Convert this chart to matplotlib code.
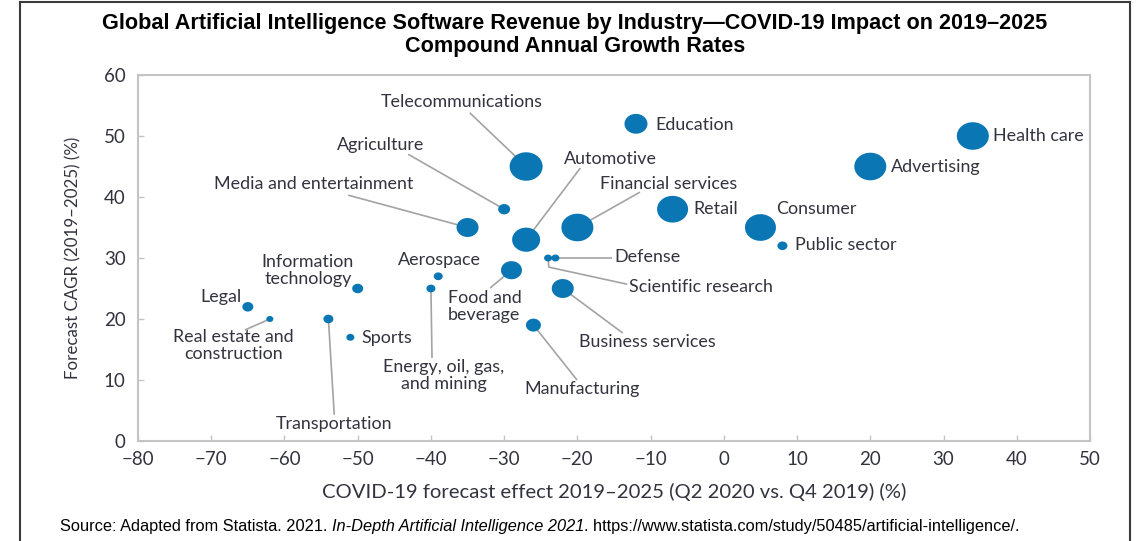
import numpy as np
import matplotlib
matplotlib.use("Agg")
import matplotlib.pyplot as plt
from matplotlib.path import Path
from matplotlib.lines import Line2D

# ---------------- data ----------------
industries = ["Health care", "Advertising", "Education", "Telecommunications", "Agriculture",
              "Media and entertainment", "Automotive", "Financial services", "Retail", "Consumer",
              "Public sector", "Scientific research", "Defense", "Food and beverage", "Aerospace",
              "Energy, oil, gas,\nand mining", "Information\ntechnology", "Legal",
              "Real estate and\nconstruction", "Transportation", "Sports", "Business services",
              "Manufacturing"]
forecast_effect = [34, 20, -12, -27, -30, -35, -27, -20, -7, 5, 8, -24, -23, -29, -39, -40, -50,
                   -65, -62, -54, -51, -22, -26]
cagr = [50, 45, 52, 45, 38, 35, 33, 35, 38, 35, 32, 30, 30, 28, 27, 25, 25, 22, 20, 20, 17, 25, 19]
bubble_size = [32, 32, 23, 33, 12, 22, 28, 32, 31, 31, 10, 8, 8, 21, 9, 9, 11, 11, 7, 10, 8, 22, 15]

x_ticks = list(range(-80, 51, 10))
y_ticks = list(range(0, 61, 10))

# label placement: (text x, text y, ha, leader-line points)
label_layout = {
    "Health care": (36.75, 50.0, "left", None),
    "Advertising": (22.8, 44.9, "left", None),
    "Education": (-9.4, 51.8, "left", None),
    "Telecommunications": (-35.8, 55.6, "center", [(-34.7, 53.8)]),
    "Agriculture": (-46.8, 48.5, "center", [(-43.1, 47.0)]),
    "Media and entertainment": (-56.0, 42.1, "center", [(-51.3, 40.3)]),
    "Automotive": (-15.5, 46.2, "center", [(-19.6, 44.75)]),
    "Financial services": (-7.5, 42.1, "center", [(-11.45, 40.8)]),
    "Retail": (-4.1, 38.0, "left", None),
    "Consumer": (7.1, 38.0, "left", None),
    "Public sector": (9.7, 32.1, "left", None),
    "Defense": (-14.9, 30.2, "left", [(-15.3, 30.0)]),
    "Scientific research": (-12.95, 25.2, "left", [(-13.2, 25.7), (-23.9, 28.5)]),
    "Aerospace": (-38.8, 29.7, "center", None),
    "Food and beverage": (-37.7, 22.0, "left", [(-31.9, 25.1)]),
    "Energy, oil, gas,\nand mining": (-38.2, 10.7, "center", [(-39.85, 13.6)]),
    "Information\ntechnology": (-56.8, 28.0, "center", None),
    "Legal": (-68.7, 23.6, "center", None),
    "Real estate and\nconstruction": (-67.0, 15.7, "center", [(-65.4, 18.2)]),
    "Transportation": (-53.2, 2.8, "center", [(-53.2, 4.3)]),
    "Sports": (-49.5, 16.9, "left", None),
    "Business services": (-10.5, 16.2, "center", [(-13.8, 17.7)]),
    "Manufacturing": (-19.4, 8.5, "center", [(-20.05, 10.0)]),
}
display_text = {"Food and beverage": "Food and\nbeverage"}

# ---------------- style ----------------
W, H, DPI = 1137, 541, 100
fig = plt.figure(figsize=(W / DPI, H / DPI), dpi=DPI)
fig.patch.set_facecolor("white")
ax = fig.add_axes([138 / W, 1 - 441 / H, (1090 - 138) / W, (441 - 75) / H])

text_color = "#33333f"
bubble_color = "#0a77b4"
line_color = "#a3a3a3"
FONT = "Lato"

theta = np.linspace(0, 2 * np.pi, 80)
ellipse = Path(np.column_stack([1.16 * np.cos(theta), np.sin(theta)]))

sizes = [(d * 72 / DPI) ** 2 for d in bubble_size]
ax.scatter(forecast_effect, cagr, s=sizes, marker=ellipse, color=bubble_color,
           linewidths=0, zorder=3)

for name, xv, yv in zip(industries, forecast_effect, cagr):
    tx, ty, ha, pts = label_layout[name]
    if pts:
        xs = [p[0] for p in pts] + [xv]
        ys = [p[1] for p in pts] + [yv]
        ax.plot(xs, ys, color=line_color, lw=1.2, zorder=2, solid_capstyle="butt")
    ax.text(tx, ty, display_text.get(name, name), ha=ha, va="center", fontsize=12.9,
            family=FONT, color=text_color, linespacing=1.1, zorder=4)

ax.set_xlim(-80, 50)
ax.set_ylim(0, 60)
ax.set_xticks(x_ticks)
ax.set_yticks(y_ticks)
ax.set_xticklabels([str(v).replace("-", "\u2212") for v in x_ticks])
for spine in ax.spines.values():
    spine.set_color("#c4c4c4")
    spine.set_linewidth(1.5)
ax.tick_params(direction="in", length=4, width=1, color="#c4c4c4",
               labelsize=13.5, labelcolor=text_color, pad=7)
for lab in ax.get_xticklabels() + ax.get_yticklabels():
    lab.set_family(FONT)
ax.tick_params(axis="y", pad=9)

ax.set_xlabel("COVID-19 forecast effect 2019\u20132025 (Q2 2020 vs. Q4 2019) (%)",
              fontsize=14.6, family=FONT, color=text_color, labelpad=11)
ax.set_ylabel("Forecast CAGR (2019\u20132025) (%)", fontsize=12.2, family=FONT,
              color=text_color, labelpad=16)

fig.text(575 / W, 1 - 35 / H,
         "Global Artificial Intelligence Software Revenue by Industry\u2014COVID-19 Impact on 2019\u20132025\nCompound Annual Growth Rates",
         ha="center", va="center", fontsize=15.6, fontweight="bold",
         family="Liberation Sans", color="black", linespacing=1.1)

FS = 11.8
t1 = fig.text(60 / W, 1 - 527 / H, "Source: Adapted from Statista. 2021. ",
              ha="left", va="center", fontsize=FS, family="Liberation Sans", color="black")
t2 = fig.text(0, 0, "In-Depth Artificial Intelligence 2021", fontsize=FS,
              family="Liberation Sans", style="italic", color="black")
t3 = fig.text(0, 0, ". https://www.statista.com/study/50485/artificial-intelligence/.",
              fontsize=FS, family="Liberation Sans", color="black")
fig.canvas.draw()
r = fig.canvas.get_renderer()
inv = fig.transFigure.inverted()
b1 = inv.transform(t1.get_window_extent(r))
t2.set_position((b1[1][0], b1[0][1]))
t2.set_va("bottom")
fig.canvas.draw()
b2 = inv.transform(t2.get_window_extent(r))
t3.set_position((b2[1][0], b1[0][1]))
t3.set_va("bottom")

# outer frame
fc = "#3a3a3a"
fig.add_artist(Line2D([20 / W, 20 / W], [0, 1 - 2 / H], color=fc, lw=1.5, transform=fig.transFigure))
fig.add_artist(Line2D([1130 / W, 1130 / W], [0, 1 - 2 / H], color=fc, lw=1.5, transform=fig.transFigure))
fig.add_artist(Line2D([20 / W, 1130 / W], [1 - 2 / H, 1 - 2 / H], color=fc, lw=1.5, transform=fig.transFigure))

fig.savefig("out.png", dpi=DPI, facecolor="white")
